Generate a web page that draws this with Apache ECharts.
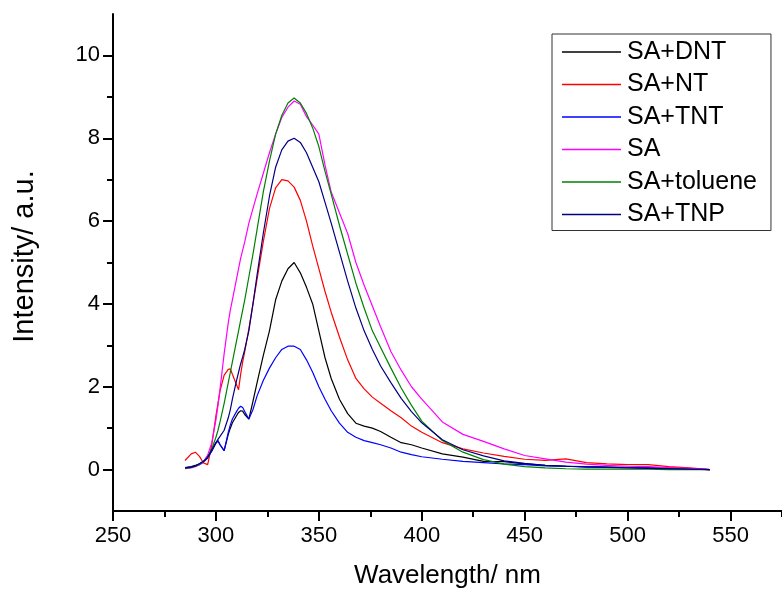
<!DOCTYPE html>
<html>
<head>
<meta charset="utf-8">
<script src="https://cdn.jsdelivr.net/npm/echarts@6/dist/echarts.min.js"></script>
<style>
html,body{margin:0;padding:0;background:#fff;}
#chart{width:782px;height:594px;}
</style>
</head>
<body>
<div id="chart"></div>
<script>
const wavelength = [285,288,290,292,294,296,298,300,301,302,304,306,307,308,310,311,312,313,314,316,318,320,323,326,329,332,335,338,341,344,347,350,353,356,360,364,368,372,376,380,385,390,395,400,410,420,430,440,450,460,470,480,490,500,510,520,530,540];

const saDnt = [0.05,0.07,0.10,0.14,0.20,0.30,0.45,0.64,0.69,0.60,0.46,0.85,1.00,1.13,1.30,1.38,1.42,1.41,1.33,1.22,1.65,2.10,2.75,3.35,4.10,4.55,4.85,5.00,4.75,4.40,4.00,3.35,2.70,2.20,1.70,1.35,1.12,1.05,1.00,0.92,0.78,0.65,0.60,0.52,0.38,0.30,0.20,0.19,0.14,0.10,0.08,0.07,0.06,0.05,0.04,0.03,0.02,0.00];

const saNt = [0.22,0.38,0.42,0.32,0.16,0.12,0.60,1.30,1.60,1.90,2.28,2.42,2.43,2.30,2.05,1.93,2.30,2.60,2.85,3.40,4.00,4.60,5.50,6.30,6.80,7.00,6.97,6.82,6.50,6.00,5.40,4.85,4.30,3.80,3.20,2.65,2.20,1.95,1.75,1.60,1.42,1.25,1.05,0.90,0.65,0.50,0.40,0.32,0.25,0.22,0.26,0.17,0.14,0.12,0.12,0.07,0.04,0.00];

const saTnt = [0.04,0.06,0.08,0.12,0.18,0.28,0.45,0.65,0.70,0.60,0.46,0.90,1.08,1.22,1.40,1.48,1.53,1.50,1.40,1.22,1.45,1.78,2.15,2.45,2.70,2.90,2.98,2.98,2.90,2.65,2.35,2.00,1.70,1.42,1.12,0.90,0.78,0.70,0.65,0.60,0.52,0.42,0.36,0.31,0.25,0.20,0.17,0.14,0.12,0.09,0.08,0.07,0.06,0.05,0.04,0.03,0.02,0.00];

const saOnly = [0.02,0.04,0.07,0.12,0.20,0.35,0.65,1.20,1.55,1.95,2.80,3.55,3.85,4.10,4.60,4.85,5.10,5.30,5.50,5.95,6.30,6.65,7.15,7.65,8.10,8.50,8.75,8.90,8.82,8.52,8.32,8.10,7.35,6.70,6.20,5.70,5.00,4.45,3.95,3.45,2.85,2.40,2.00,1.70,1.15,0.85,0.68,0.50,0.34,0.26,0.18,0.13,0.10,0.08,0.07,0.05,0.03,0.00];

const saToluene = [0.03,0.05,0.08,0.13,0.20,0.30,0.50,0.78,0.95,1.15,1.60,2.10,2.35,2.60,3.10,3.35,3.60,3.85,4.10,4.65,5.20,5.80,6.70,7.45,8.10,8.55,8.85,8.97,8.85,8.60,8.25,7.80,7.20,6.65,5.90,5.20,4.50,3.90,3.35,2.95,2.45,1.97,1.55,1.17,0.70,0.42,0.24,0.13,0.07,0.04,0.02,0.01,0.01,0.01,0.01,0.00,0.00,0.00];

const saTnp = [0.04,0.06,0.09,0.14,0.20,0.30,0.48,0.65,0.73,0.80,0.95,1.25,1.45,1.70,2.15,2.35,2.55,2.72,2.90,3.35,4.00,4.70,5.70,6.60,7.30,7.72,7.93,8.00,7.90,7.65,7.30,6.95,6.45,5.95,5.25,4.55,3.90,3.35,2.90,2.50,2.10,1.72,1.40,1.13,0.72,0.48,0.33,0.21,0.15,0.10,0.08,0.06,0.05,0.04,0.03,0.02,0.01,0.00];

const seriesNames = ['SA+DNT','SA+NT','SA+TNT','SA','SA+toluene','SA+TNP'];
const seriesColors = ['#000000','#ff0000','#0000ff','#ff00ff','#008000','#000080'];
const seriesValues = [saDnt, saNt, saTnt, saOnly, saToluene, saTnp];

const xTickLabels = [250,300,350,400,450,500,550];
const xMinorTicks = [275,325,375,425,475,525,575];
const yTickLabels = [0,2,4,6,8,10];
const yMinorTicks = [1,3,5,7,9];

const FONT = '"Liberation Sans", Arial, Helvetica, sans-serif';
const chart = echarts.init(document.getElementById('chart'), null, {renderer:'canvas'});

const series = seriesNames.map((name, k) => ({
  name: name,
  type: 'line',
  xAxisIndex: 0,
  yAxisIndex: 0,
  symbol: 'none',
  showSymbol: false,
  smooth: false,
  data: wavelength.map((w, i) => [w, seriesValues[k][i]]),
  lineStyle: {color: seriesColors[k], width: 1.2},
  itemStyle: {color: seriesColors[k]},
  z: 2
}));

const gridH = 497, gridW = 669;

chart.setOption({
  animation: false,
  backgroundColor: '#ffffff',
  grid: {left: 113, top: 14, width: gridW, height: gridH, containLabel: false},
  legend: {
    orient: 'vertical',
    left: 552,
    top: 34,
    padding: [5, 14, 3, 10],
    itemGap: 6.5,
    itemWidth: 59,
    itemHeight: 1.3,
    icon: 'rect',
    borderColor: '#333',
    borderWidth: 1,
    backgroundColor: '#fff',
    textStyle: {fontFamily: FONT, fontSize: 25, color: '#000', lineHeight: 26, padding: [0,0,0,1]},
    data: seriesNames
  },
  xAxis: [
    {
      type: 'value', min: 250, max: 575, position: 'bottom',
      name: 'Wavelength/ nm', nameLocation: 'middle', nameGap: 52,
      nameTextStyle: {fontFamily: FONT, fontSize: 26, color: '#000'},
      axisLine: {show: true, onZero: false, lineStyle: {color: '#000', width: 2}},
      axisTick: {show: true, length: 10, customValues: xTickLabels, lineStyle: {color: '#000', width: 2}},
      axisLabel: {show: true, customValues: xTickLabels, fontFamily: FONT, fontSize: 22, color: '#000', margin: 14},
      splitLine: {show: false}
    },
    {
      type: 'value', min: 250, max: 575, position: 'top', offset: -gridH,
      axisLine: {show: false, onZero: false},
      axisTick: {show: true, inside: true, length: 6, customValues: xMinorTicks, lineStyle: {color: '#000', width: 2}},
      axisLabel: {show: false},
      splitLine: {show: false}
    }
  ],
  yAxis: [
    {
      type: 'value', min: -1, max: 11, position: 'left',
      name: 'Intensity/ a.u.', nameLocation: 'middle', nameGap: 74,
      nameTextStyle: {fontFamily: FONT, fontSize: 29, color: '#000', padding: [0, 0, 0, 12]},
      axisLine: {show: true, onZero: false, lineStyle: {color: '#000', width: 2}},
      axisTick: {show: true, length: 10, customValues: yTickLabels, lineStyle: {color: '#000', width: 2}},
      axisLabel: {show: true, customValues: yTickLabels, fontFamily: FONT, fontSize: 22, color: '#000', margin: 13},
      splitLine: {show: false}
    },
    {
      type: 'value', min: -1, max: 11, position: 'right', offset: -gridW,
      axisLine: {show: false, onZero: false},
      axisTick: {show: true, inside: true, length: 6, customValues: yMinorTicks, lineStyle: {color: '#000', width: 2}},
      axisLabel: {show: false},
      splitLine: {show: false}
    }
  ],
  series: series
});
</script>
</body>
</html>
